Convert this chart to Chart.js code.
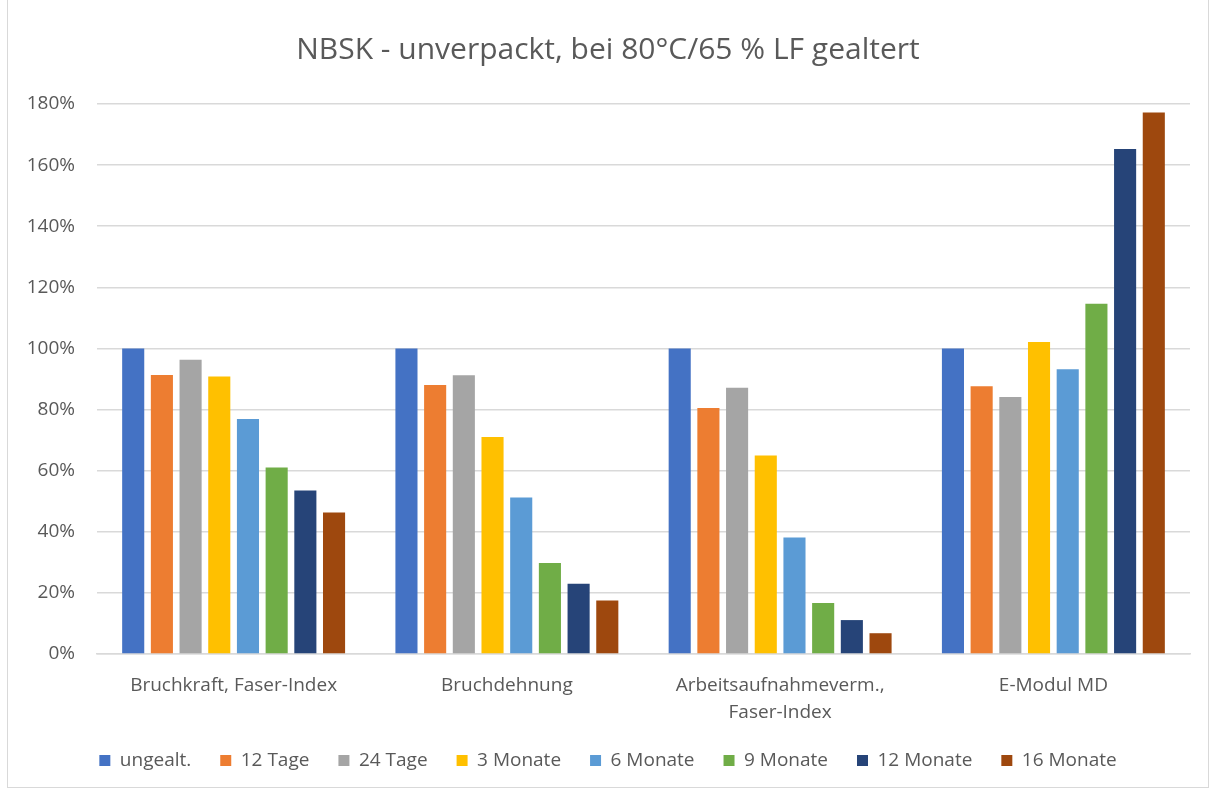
<!DOCTYPE html>
<html>
<head>
<meta charset="utf-8">
<script src="https://cdn.jsdelivr.net/npm/chart.js@4/dist/chart.umd.min.js"></script>
<style>
  body { margin: 0; background: #fff; }
  #box {
    position: absolute; left: 7px; top: -1px;
    width: 1200px; height: 787px;
    border: 1px solid #d9d9d9;
  }
  canvas { display: block; }
</style>
</head>
<body>
<div id="box"><canvas id="chart" width="1200" height="787"></canvas></div>
<script>
// categories and series (values in %)
const categories = [
    "Bruchkraft, Faser-Index",
    "Bruchdehnung",
    ["Arbeitsaufnahmeverm.,", "Faser-Index"],
    "E-Modul MD"
];
const seriesNames = ["ungealt.", "12 Tage", "24 Tage", "3 Monate", "6 Monate", "9 Monate", "12 Monate", "16 Monate"];
const ungealt   = [100, 100, 100, 100];
const tage12    = [91.3, 88.0, 80.5, 87.6];
const tage24    = [96.3, 91.2, 87.1, 84.1];
const monate3   = [90.8, 71.0, 65.0, 102.1];
const monate6   = [76.9, 51.2, 38.1, 93.2];
const monate9   = [61.0, 29.8, 16.7, 114.6];
const monate12  = [53.5, 23.0, 11.1, 165.3];
const monate16  = [46.3, 17.5, 6.8, 177.2];
const yTicks = [0, 20, 40, 60, 80, 100, 120, 140, 160, 180];

const seriesValues = [ungealt, tage12, tage24, monate3, monate6, monate9, monate12, monate16];
const colors = ["#4472C4", "#ED7D31", "#A5A5A5", "#FFC000", "#5B9BD5", "#70AD47", "#264478", "#9E480E"];

const textColor = "#595959";
const font = "'Open Sans', 'Noto Sans', sans-serif";

const whiteBg = {
    id: "whiteBg",
    beforeDraw(chart) {
        const c = chart.ctx;
        c.save();
        c.fillStyle = "#fff";
        c.fillRect(0, 0, chart.width, chart.height);
        c.restore();
    }
};

new Chart(document.getElementById("chart"), {
    type: "bar",
    data: {
        labels: categories,
        datasets: seriesNames.map((name, i) => ({
            label: name,
            data: seriesValues[i],
            backgroundColor: colors[i],
            categoryPercentage: 0.84,
            barPercentage: 0.77
        }))
    },
    options: {
        responsive: false,
        animation: false,
        layout: { padding: { left: 0, right: 0, top: 0, bottom: 7 } },
        plugins: {
            title: {
                display: true,
                text: "NBSK - unverpackt, bei 80°C/65 % LF gealtert",
                color: textColor,
                font: { family: font, size: 30, weight: "normal" },
                padding: { top: 32, bottom: 36 }
            },
            legend: {
                position: "bottom",
                labels: {
                    color: textColor,
                    font: { family: font, size: 19 },
                    boxWidth: 11,
                    boxHeight: 11,
                    padding: 29
                }
            },
            tooltip: { enabled: false }
        },
        scales: {
            x: {
                grid: { display: false, drawTicks: false },
                border: { display: true, color: "#d9d9d9", width: 1.5 },
                ticks: {
                    color: textColor,
                    font: { family: font, size: 19, lineHeight: 1.42 },
                    padding: 18,
                    maxRotation: 0,
                    autoSkip: false
                },
                afterFit(scale) { scale.height = 68; }
            },
            y: {
                min: 0,
                max: 180,
                afterBuildTicks(scale) { scale.ticks = yTicks.map(v => ({ value: v })); },
                grid: { color: "#d9d9d9", lineWidth: 1.5, drawTicks: false },
                border: { display: false },
                ticks: {
                    color: textColor,
                    font: { family: font, size: 19 },
                    padding: 22,
                    callback: v => v + "%"
                },
                afterFit(scale) { scale.width = 89; }
            },
            // empty right-hand spacer so the plot ends where the reference does
            yRight: {
                position: "right",
                min: 0,
                max: 180,
                grid: { display: false, drawTicks: false },
                border: { display: false },
                ticks: { display: false },
                afterFit(scale) { scale.width = 18; }
            }
        }
    },
    plugins: [whiteBg]
});
</script>
</body>
</html>
